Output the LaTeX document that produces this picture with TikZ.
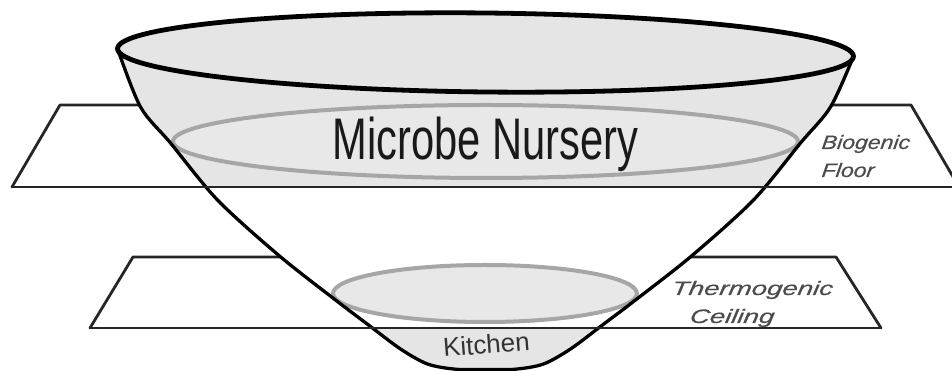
\documentclass[tikz,border=0pt]{standalone}
\usepackage{fontspec}
\setmainfont{Liberation Sans}
\newfontfamily\narrowfont[FakeStretch=0.71]{Liberation Sans}
\newfontfamily\wideitfont[FakeStretch=1.18, FakeSlant=0.12, FakeBold=0.4]{Liberation Sans}

\newcommand{\coneside}{plot[smooth, tension=0.5] coordinates {(117.5,322.4) (140.5,264) (170.5,228) (217.5,171) (279.5,115) (335.5,71) (368.5,46) (400.5,22) (427.5,7) (455.5,1.8) (485.5,1.5) (515.5,1.8) (543.5,7) (570.5,22) (602.5,46) (635.5,71) (691.5,115) (753.5,171) (800.5,228) (830.5,264) (853.5,314.6)}}

\begin{document}
\begin{tikzpicture}[
    x=1pt, y=1pt, line cap=round, line join=round,
    plane/.style   ={draw=black!85, line width=2.8pt},
    conefill/.style={fill=black!10},
    rim/.style     ={draw=black!35, line width=4pt, fill=black!9},
    coneline/.style={draw=black, line width=3.3pt},
    toprim/.style  ={draw=black, line width=4.8pt},
    lbl/.style     ={font=\wideitfont\itshape\fontsize{19.5}{28}\selectfont, text=black!70, align=left, inner sep=0pt, anchor=base west}
]
\clip (0,0) rectangle (952,371);

% planes
\draw[plane] (12,184) -- (60,266) -- (911,266) -- (959,184);
\draw[plane] (90,43) -- (133,114) -- (836,114) -- (881,43);

% cone body
\fill[white] \coneside -- cycle;
\begin{scope}
  \clip (0,184) rectangle (952,371);
  \fill[conefill] \coneside -- cycle;
\end{scope}
\begin{scope}
  \clip (0,0) rectangle (952,43);
  \fill[conefill] \coneside -- cycle;
\end{scope}
\fill[conefill, rotate around={-0.6:(485.5,318.5)}] (485.5,318.5) ellipse (368 and 39.5);

% inner rims
\draw[rim] (485.5,229.5) ellipse (312.5 and 36.5);
\draw[rim] (485,77.5) ellipse (152 and 28.5);

% cone outline
\draw[coneline] \coneside;

% front edges of planes
\draw[plane] (12,184) -- (959,184);
\draw[plane] (90,43) -- (881,43);

% top rim
\draw[toprim, rotate around={-0.6:(485.5,318.5)}] (485.5,318.5) ellipse (368 and 39.5);

% labels
\node[font=\narrowfont\fontsize{58.7}{60}\selectfont, text=black!90, anchor=base, inner sep=0pt] (nursery) at (485.5,211) {Microbe Nursery};
\node[font=\fontsize{26}{28}\selectfont, text=black!80, anchor=base, inner sep=0pt, rotate=4.4] (kitchen) at (487,17.5) {Kitchen};
\node[lbl] (biogenic) at (821,194) {Biogenic\\Floor};
\node[lbl, xscale=1.2] (thermogenic) at (671,48) {Thermogenic\\\hspace*{15pt}Ceiling};
\end{tikzpicture}
\end{document}
